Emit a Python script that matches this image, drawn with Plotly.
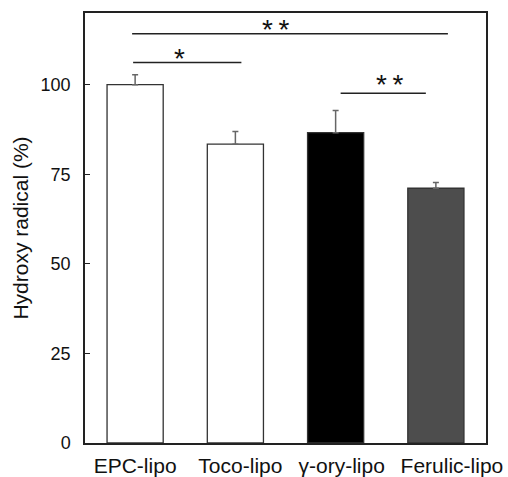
import plotly.graph_objects as go

categories = ["EPC-lipo", "Toco-lipo", "γ-ory-lipo", "Ferulic-lipo"]
values = [100.0, 83.4, 86.6, 71.1]
errors = [2.8, 3.5, 6.2, 1.6]
bar_colors = ["#ffffff", "#ffffff", "#000000", "#4d4d4d"]
y_ticks = [0, 25, 50, 75, 100]
# slight horizontal offsets of the category labels, as in the original
label_offsets = [0.0, 0.05, 0.06, 0.16]

# significance brackets: start, end (category units), level, label, label x, label y
sig_x0 = [-0.03, -0.02, 2.05]
sig_x1 = [3.12, 1.06, 2.90]
sig_y = [114.2, 106.2, 97.6]
sig_label = ["*\u2009*", "*", "*\u2009*"]
sig_label_x = [1.41, 0.44, 2.54]
sig_label_y = [116.4, 108.4, 101.1]

xpos = list(range(len(categories)))
label_pos = [p + o for p, o in zip(xpos, label_offsets)]

fig = go.Figure()
fig.add_trace(go.Bar(
    x=xpos, y=values, width=0.56,
    marker=dict(color=bar_colors, line=dict(color="#333333", width=1.3)),
    error_y=dict(type="data", array=errors, arrayminus=[0]*len(errors), symmetric=False,
                 color="#666666", thickness=1.5, width=3),
    showlegend=False,
))

for x0, x1, y in zip(sig_x0, sig_x1, sig_y):
    fig.add_shape(type="line", x0=x0, x1=x1, y0=y, y1=y, xref="x", yref="y",
                  line=dict(color="#222222", width=1.5))
for lx, ly, lab in zip(sig_label_x, sig_label_y, sig_label):
    fig.add_annotation(x=lx, y=ly, text=lab, showarrow=False, xref="x", yref="y",
                       yanchor="middle", yshift=-4,
                       font=dict(family="Liberation Sans, Arial", size=28, color="#111111"))

fig.update_layout(
    width=508, height=477,
    margin=dict(l=85, r=22, t=13, b=34),
    paper_bgcolor="white", plot_bgcolor="white",
    font=dict(family="Liberation Sans, Arial", color="#111111"),
    bargap=0.44,
)
fig.update_xaxes(
    range=[-0.5, 3.5], tickvals=label_pos, ticktext=categories, automargin=False,
    tickfont=dict(size=21), showline=True, linecolor="#222222", linewidth=1.5,
    mirror=True, ticks="", showgrid=False, zeroline=False, ticklabelstandoff=3,
)
fig.update_yaxes(
    range=[0, 120], tickvals=y_ticks, tickfont=dict(size=18), automargin=False,
    title=dict(text="Hydroxy radical (%)", font=dict(size=21), standoff=6),
    showline=True, linecolor="#222222", linewidth=1.5, mirror=True, ticklabelstandoff=9,
    ticks="inside", ticklen=5, tickcolor="#222222", showgrid=False, zeroline=False,
)

fig.write_html("out.html", config={"responsive": False, "displayModeBar": False},
               post_script="document.body.style.margin='0';document.body.style.overflow='hidden';")
